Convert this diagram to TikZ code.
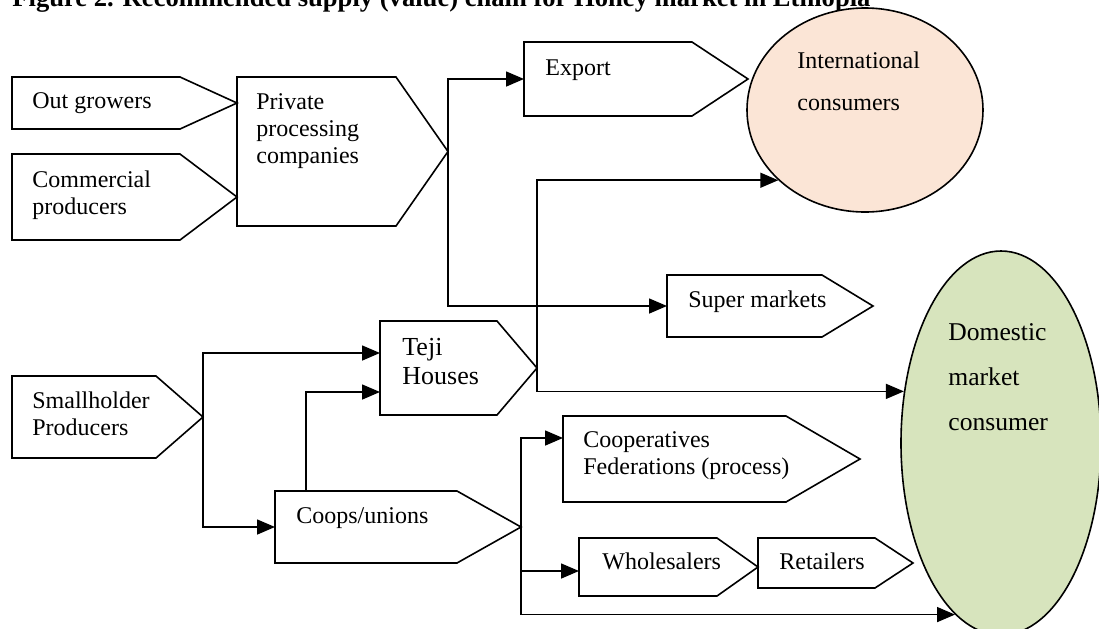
\documentclass[tikz,border=0pt]{standalone}
\usepackage{fontspec}
\setmainfont{Liberation Serif}
\usetikzlibrary{
	arrows.meta,
	calc,
	positioning,
	shapes.geometric
}
\definecolor{PeachFill}{RGB}{251,229,214}
\definecolor{SageFill}{RGB}{215,228,189}

\tikzset{
	box/.style={draw, line width=0.8pt, line join=miter},
	flow/.style={line width=0.8pt, -{Triangle[length=9pt,width=7.5pt]}},
	lbl/.style={anchor=base west, inner sep=0pt, align=left, font=\fontsize{12}{13.3}\selectfont},
}

% tag shaped box: name, left, top, right, bottom, tip
\newcommand{\tagbox}[6]{%
	\draw[box] (#2,#3) -- (#4,#3) -- (#6,{(#3+#5)/2}) -- (#4,#5) -- (#2,#5) -- cycle;
	\coordinate (#1-w) at (#2,{(#3+#5)/2});
	\coordinate (#1-e) at (#6,{(#3+#5)/2});
}

\begin{document}
\begin{tikzpicture}[x=0.5pt, y=-0.5pt]
		\useasboundingbox (0,0) rectangle (1099,628);
		
		\node[lbl, font=\bfseries\fontsize{13.3}{14}\selectfont] (title) at (12,6) {Figure 2. Recommended supply (value) chain for Honey market in Ethiopia};
		
		% consumers
		\node[ellipse, draw, line width=0.8pt, fill=PeachFill, minimum width=118pt, minimum height=102pt, inner sep=0pt] (intl) at (865,110) {};
		\node[ellipse, draw, line width=0.8pt, fill=SageFill, minimum width=100pt, minimum height=192pt, inner sep=0pt] (dom) at (1001,443) {};
		
		% boxes
		\tagbox{og}{12}{77}{180}{129}{237}
		\tagbox{cp}{12}{154}{180}{240}{237}
		\tagbox{ppc}{237}{77}{396}{226}{448}
		\tagbox{exp}{524}{42}{692}{116}{748}
		\tagbox{sup}{667}{275}{822}{337}{873}
		\tagbox{teji}{380}{321}{497}{415}{537}
		\tagbox{sh}{12}{376}{156}{458}{203}
		\tagbox{cu}{275}{491}{457}{563}{521}
		\tagbox{cf}{563}{416}{786}{502}{860}
		\tagbox{ws}{579}{538}{717}{596}{758}
		\tagbox{rt}{758}{538}{875}{588}{913}
		
		% texts (base = last line)
		\node[lbl] (ogt) at (32,108) {Out growers};
		\node[lbl] (cpt) at (32,214) {Commercial\\producers};
		\node[lbl] (ppct) at (256,163) {Private\\processing\\companies};
		\node[lbl] (expt) at (545,75) {Export};
		\node[lbl, font=\fontsize{12}{21}\selectfont] (intlt) at (797,110) {International\\consumers};
		\node[lbl] (supt) at (688,307) {Super markets};
		\node[lbl, font=\fontsize{13}{14.5}\selectfont] (tejit) at (402,384) {Teji\\Houses};
		\node[lbl] (sht) at (32,435) {Smallholder\\Producers};
		\node[lbl] (cut) at (296,523) {Coops/unions};
		\node[lbl] (cft) at (583,474) {Cooperatives\\Federations (process)};
		\node[lbl] (wst) at (602,569) {Wholesalers};
		\node[lbl] (rtt) at (779,569) {Retailers};
		\node[lbl, font=\fontsize{12.8}{22.5}\selectfont] (domt) at (948,430) {Domestic\\market\\consumer};
		
		% entry points
		\coordinate (tejiin1) at (380,353);
		\coordinate (tejiin2) at (380,392);
		\coordinate (cutop) at (306,491);
		\coordinate (cfin) at (563,438);
		\coordinate (wsin) at (579,571);
		
		% flows
		\draw[flow] (sh-e) |- (tejiin1);
		\draw[flow] (sh-e) |- (cu-w);
		\draw[flow] (cutop) |- (tejiin2);
		\draw[flow] (ppc-e) |- (exp-w);
		\draw[flow] (ppc-e) |- (sup-w);
		\draw[flow] (teji-e) |- (intl.219);
		\draw[flow] (teji-e) |- (dom.152);
		\draw[flow] (cu-e) |- (cfin);
		\draw[flow] (cu-e) |- (wsin);
		\draw[flow] (cu-e) |- (dom.255);
		
	\end{tikzpicture}
\end{document}
